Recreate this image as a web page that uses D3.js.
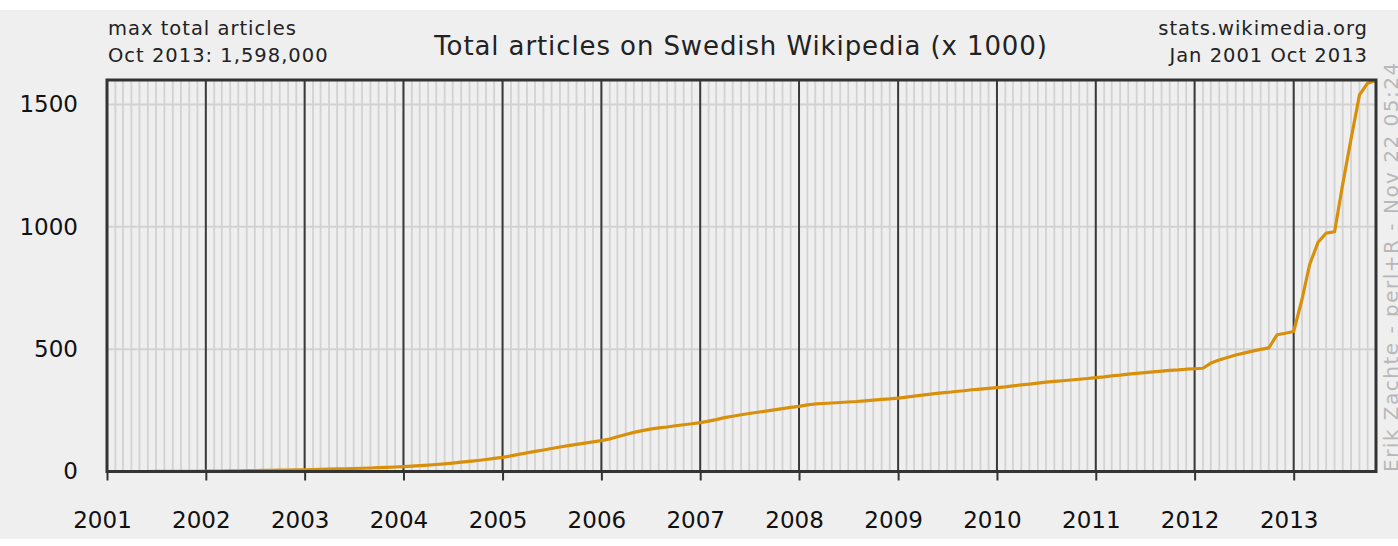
<!DOCTYPE html>
<html>
<head>
<meta charset="utf-8">
<script src="https://cdn.jsdelivr.net/npm/d3@7"></script>
<style>
  body { margin: 0; background: #fff; }
  svg { display: block; font-family: "DejaVu Sans", sans-serif; }
</style>
</head>
<body>
<div id="canvas"></div>
<script>
// total articles (x 1000), one value per month, end of month
const v2001 = [0, 0, 0, 0, 0.1, 0.2, 0.3, 0.5, 0.7, 0.9, 1.1, 1.3];
const v2002 = [1.6, 2.0, 2.4, 2.8, 3.2, 3.7, 4.2, 4.7, 5.3, 5.9, 6.4, 7.0];
const v2003 = [7.8, 8.6, 9.5, 10.4, 11.3, 12.3, 13.3, 14.4, 15.6, 16.9, 18.4, 20];
const v2004 = [21.8, 23.8, 26, 28.5, 31.5, 34.5, 38, 41.5, 45, 49, 53.5, 58];
const v2005 = [64, 70, 76, 82, 88, 94, 100, 106, 111, 116, 121, 126];
const v2006 = [133, 142, 151, 160, 167, 173, 178, 182, 187, 191, 195, 200];
const v2007 = [206, 212, 220, 226, 232, 237, 242, 247, 252, 257, 262, 266];
const v2008 = [272, 276, 278, 280, 282, 284, 286, 289, 292, 295, 297, 300];
const v2009 = [304, 308, 312, 316, 320, 323, 327, 330, 334, 337, 340, 343];
const v2010 = [346, 350, 354, 357, 361, 365, 368, 371, 374, 377, 380, 384];
const v2011 = [387, 391, 394, 398, 401, 404, 407, 410, 413, 415, 418, 420];
const v2012 = [422, 443, 456, 466, 476, 484, 492, 499, 505, 559, 565, 572];
const v2013 = [705, 846, 937, 974, 980, 1174, 1360, 1539, 1587, 1598];

const yearLabels = ["2001", "2002", "2003", "2004", "2005", "2006", "2007",
                    "2008", "2009", "2010", "2011", "2012", "2013"];
const yTicks = [0, 500, 1000, 1500];

const values = [].concat(v2001, v2002, v2003, v2004, v2005, v2006, v2007,
                         v2008, v2009, v2010, v2011, v2012, v2013);

const width = 1398;
const height = 546;
const start = new Date(Date.UTC(2001, 0, 1));
const end = new Date(Date.UTC(2013, 10, 1));

const data = values.map((v, i) => ({ date: d3.utcMonth.offset(start, i + 1), value: v }));

const svg = d3.select("#canvas").append("svg")
    .attr("width", width)
    .attr("height", height);

svg.append("rect")
    .attr("x", 0).attr("y", 10)
    .attr("width", width).attr("height", 529)
    .attr("fill", "#efefef");

const x = d3.scaleUtc().domain([start, end]).range([107, 1376]);
const y = d3.scaleLinear().domain([0, 1600]).range([471.5, 80]);

const g = svg.append("g");

// month grid
g.selectAll(".month").data(d3.utcMonth.range(start, end))
    .enter().append("line")
    .attr("x1", d => x(d)).attr("x2", d => x(d))
    .attr("y1", y(1600)).attr("y2", y(0))
    .attr("stroke", "#d2d2d2").attr("stroke-width", 1.8);

// horizontal grid
g.selectAll(".hgrid").data(yTicks.filter(d => d > 0))
    .enter().append("line")
    .attr("x1", x(start)).attr("x2", x(end))
    .attr("y1", d => y(d)).attr("y2", d => y(d))
    .attr("stroke", "#d2d2d2").attr("stroke-width", 2);

// year grid
const years = yearLabels.map(s => new Date(Date.UTC(+s, 0, 1)));
g.selectAll(".year").data(years.slice(1))
    .enter().append("line")
    .attr("x1", d => x(d)).attr("x2", d => x(d))
    .attr("y1", y(1600)).attr("y2", y(0))
    .attr("stroke", "#3a3a3a").attr("stroke-width", 2);

// x axis
const xAxis = svg.append("g")
    .attr("transform", `translate(0,${y(0)})`)
    .call(d3.axisBottom(x)
        .tickValues(years)
        .tickFormat(d3.utcFormat("%Y"))
        .tickSize(9)
        .tickPadding(31));
xAxis.select(".domain").remove();
xAxis.selectAll("line").attr("stroke", "#333").attr("stroke-width", 2);
xAxis.selectAll("text").attr("font-size", 23).attr("fill", "#111")
    .attr("font-family", "DejaVu Sans")
    .attr("dx", -5);

// y axis
const yAxis = svg.append("g")
    .attr("transform", `translate(${x(start)},0)`)
    .call(d3.axisLeft(y).tickValues(yTicks).tickFormat(d3.format("d"))
        .tickSize(0).tickPadding(29));
yAxis.select(".domain").remove();
yAxis.selectAll("text").attr("font-size", 23).attr("fill", "#111")
    .attr("font-family", "DejaVu Sans");

// the line
const line = d3.line()
    .x(d => x(d.date))
    .y(d => y(d.value));

g.append("path")
    .datum(data)
    .attr("fill", "none")
    .attr("stroke", "#d8900b")
    .attr("stroke-width", 3.2)
    .attr("stroke-linejoin", "round")
    .attr("d", line);

// frame
g.append("rect")
    .attr("x", x(start)).attr("y", y(1600))
    .attr("width", x(end) - x(start)).attr("height", y(0) - y(1600))
    .attr("fill", "none")
    .attr("stroke", "#333")
    .attr("stroke-width", 3);

// texts
svg.append("text")
    .attr("x", 741).attr("y", 55)
    .attr("text-anchor", "middle")
    .attr("font-size", 26).attr("fill", "#222")
    .attr("letter-spacing", 0.9)
    .text("Total articles on Swedish Wikipedia (x 1000)");

const topLeft = ["max total articles", "Oct 2013: 1,598,000"];
svg.selectAll(".tl").data(topLeft).enter().append("text")
    .attr("x", 108).attr("y", (d, i) => 35 + i * 27)
    .attr("font-size", 19.5).attr("fill", "#222")
    .attr("letter-spacing", 1)
    .text(d => d);

const topRight = ["stats.wikimedia.org", "Jan 2001 Oct 2013"];
svg.selectAll(".tr").data(topRight).enter().append("text")
    .attr("x", 1368).attr("y", (d, i) => 35 + i * 27)
    .attr("text-anchor", "end")
    .attr("font-size", 19.5).attr("fill", "#222")
    .attr("letter-spacing", 1)
    .text(d => d);

svg.append("text")
    .attr("transform", "translate(1398,472) rotate(-90)")
    .attr("font-size", 20).attr("fill", "#b8b8b8")
    .attr("letter-spacing", 1.5)
    .text("Erik Zachte - perl+R - Nov 22 05:24");
</script>
</body>
</html>
